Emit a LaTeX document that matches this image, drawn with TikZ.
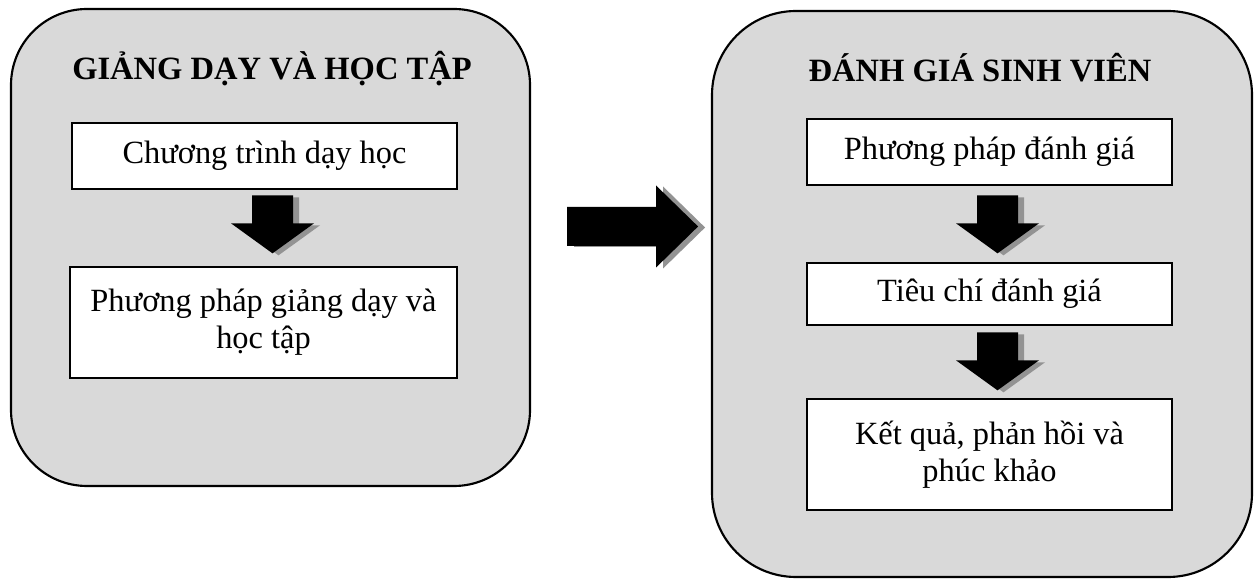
\documentclass[tikz,border=0pt]{standalone}
\usepackage{fontspec}
\setmainfont{Liberation Serif}
\usetikzlibrary{calc}
\definecolor{panelgray}{HTML}{D9D9D9}
\definecolor{shadowgray}{HTML}{939393}
\tikzset{
  container/.style={draw=black, line width=1.6pt, fill=panelgray},
  paneltitle/.style={anchor=base, inner sep=0.75pt, font=\fontsize{24.4}{28}\selectfont\bfseries},
  stepbox/.style={draw=black, line width=2pt, fill=white, align=center, inner sep=0.75pt,
    font=\fontsize{24.3}{27.5}\selectfont},
  pics/downblock/.style={code={
    \foreach \dx/\dy/\c in {6/2/shadowgray, 0/0/black}
      \fill[\c, shift={(\dx,\dy)}] (-20.5,0) -- (20.5,0) -- (20.5,28) -- (41.5,28) -- (0,58) -- (-41.5,28) -- (-20.5,28) -- cycle;
  }},
  pics/rightblock/.style={code={
    \foreach \dx/\dy/\c in {7/1/shadowgray, 0/0/black}
      \fill[\c, shift={(\dx,\dy)}] (0,-19.5) -- (89,-19.5) -- (89,-41) -- (131,0) -- (89,41) -- (89,19.5) -- (0,19.5) -- cycle;
  }}
}
\begin{document}
\begin{tikzpicture}[x=0.75pt,y=0.75pt,yscale=-1,xscale=1]
    \useasboundingbox (0,0) rectangle (1259,580);
    %Rounded Rect: teaching and learning
    \node [container, minimum width=389.25pt, minimum height=357.75pt, rounded corners=57pt] (teach) at (270.5,247.5) {};
    % Text Node
    \node [paneltitle] (teachtitle) at (272,80) {GIẢNG DẠY VÀ HỌC TẬP};
    % Text Node
    \node [stepbox, minimum width=288.75pt, minimum height=49.5pt] (curriculum) at (264.5,156) {Chương trình dạy học};
    % Text Node
    \node [stepbox, minimum width=290.25pt, minimum height=83.25pt] (method) at (263.5,322.5) {Phương pháp giảng dạy và\\học tập};
    \pic [transform shape] at ($(curriculum.south)+(8,5)$) {downblock};
    %Rounded Rect: student assessment
    \node [container, minimum width=405pt, minimum height=424.5pt, rounded corners=63pt] (assess) at (982,294) {};
    % Text Node
    \node [paneltitle] (assesstitle) at (980,82) {ĐÁNH GIÁ SINH VIÊN};
    % Text Node
    \node [stepbox, minimum width=273.75pt, minimum height=49.5pt] (evalmethod) at (989.5,152) {Phương pháp đánh giá};
    % Text Node
    \node [stepbox, minimum width=273.75pt, minimum height=46.5pt] (criteria) at (989.5,294) {Tiêu chí đánh giá};
    % Text Node
    \node [stepbox, minimum width=273.75pt, minimum height=83.25pt] (results) at (989.5,454.5) {Kết quả, phản hồi và\\phúc khảo};
    \pic [transform shape] at ($(evalmethod.south)+(8,9)$) {downblock};
    \pic [transform shape] at ($(criteria.south)+(8,6)$) {downblock};
    %Block arrow between the panels
    \pic [transform shape] at ($(teach.east)+(36,-21)$) {rightblock};
\end{tikzpicture}
\end{document}
